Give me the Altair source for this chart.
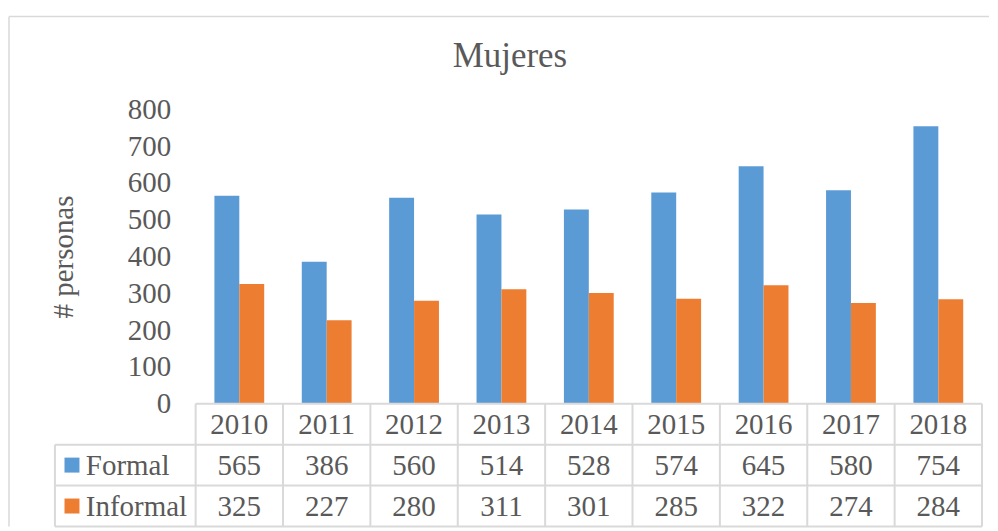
import altair as alt
import pandas as pd

years = ["2010", "2011", "2012", "2013", "2014", "2015", "2016", "2017", "2018"]
series = ["Formal", "Informal"]
formal = [565, 386, 560, 514, 528, 574, 645, 580, 754]
informal = [325, 227, 280, 311, 301, 285, 322, 274, 284]
colors = ["#5B9BD5", "#ED7D31"]
y_ticks = [0, 100, 200, 300, 400, 500, 600, 700, 800]

FONT = "Liberation Serif"
TXT = "#595959"
GRID = "#D9D9D9"

rows = []
for i, y in enumerate(years):
    rows.append({"year": y, "serie": "Formal", "value": formal[i], "idx": i})
    rows.append({"year": y, "serie": "Informal", "value": informal[i], "idx": i})
df = pd.DataFrame(rows)

color_scale = alt.Scale(domain=series, range=colors)

bars = alt.Chart(df).mark_bar().encode(
    x=alt.X("year:N", sort=years, axis=None,
            scale=alt.Scale(paddingInner=0.43, paddingOuter=0.215)),
    xOffset=alt.XOffset("serie:N", sort=series,
                        scale=alt.Scale(paddingInner=0, paddingOuter=0)),
    y=alt.Y("value:Q", scale=alt.Scale(domain=[0, 800], nice=False),
            axis=alt.Axis(values=y_ticks, title="# personas", grid=False,
                          domain=False, ticks=False, labelFont=FONT,
                          labelFontSize=29, labelColor=TXT, labelPadding=25,
                          titleFont=FONT, titleFontSize=29, titleColor=TXT,
                          titleFontWeight="normal", titlePadding=49)),
    color=alt.Color("serie:N", scale=color_scale, legend=None),
)

top = bars.properties(
    width=788, height=295,
    title=alt.Title("Mujeres", font=FONT, fontSize=35, color=TXT,
                    fontWeight="normal", dx=-79, offset=21),
)

# ---- data table below ----
cells = []
for i, y in enumerate(years):
    cells.append({"xc": i + 0.5, "row": 0.5, "label": y})
    cells.append({"xc": i + 0.5, "row": 1.5, "label": str(formal[i])})
    cells.append({"xc": i + 0.5, "row": 2.5, "label": str(informal[i])})
cells_df = pd.DataFrame(cells)

LEFT = -1.61
leg_df = pd.DataFrame({"serie": series, "row": [1.5, 2.5],
                       "xs": [-1.415, -1.415], "xt": [-1.256, -1.256]})

rules = [{"x": 0, "x2": 9, "y": 0, "y2": 0}]
for r in [1, 2, 3]:
    rules.append({"x": LEFT, "x2": 9, "y": r, "y2": r})
for c in range(10):
    rules.append({"x": c, "x2": c, "y": 0, "y2": 3})
rules.append({"x": LEFT, "x2": LEFT, "y": 1, "y2": 3})
rules_df = pd.DataFrame(rules)

xs = alt.Scale(domain=[0, 9], nice=False, zero=False)
ys = alt.Scale(domain=[0, 3], nice=False, reverse=True)

grid = alt.Chart(rules_df).mark_rule(color=GRID, strokeWidth=2).encode(
    x=alt.X("x:Q", scale=xs, axis=None), x2="x2:Q",
    y=alt.Y("y:Q", scale=ys, axis=None), y2="y2:Q",
)
texts = alt.Chart(cells_df).mark_text(font=FONT, fontSize=29, color=TXT,
                                      align="center", baseline="middle", dy=1).encode(
    x=alt.X("xc:Q", scale=xs, axis=None),
    y=alt.Y("row:Q", scale=ys, axis=None),
    text="label:N",
)
squares = alt.Chart(leg_df).mark_square(size=225, opacity=1).encode(
    x=alt.X("xs:Q", scale=xs, axis=None),
    y=alt.Y("row:Q", scale=ys, axis=None),
    color=alt.Color("serie:N", scale=color_scale, legend=None),
)
leg_text = alt.Chart(leg_df).mark_text(font=FONT, fontSize=29, color=TXT,
                                       align="left", baseline="middle", dy=1).encode(
    x=alt.X("xt:Q", scale=xs, axis=None),
    y=alt.Y("row:Q", scale=ys, axis=None),
    text="serie:N",
)

# outer chart-area border (decoration, positioned relative to the table panel)
border_df = pd.DataFrame({"k": [0]})
border_top = alt.Chart(border_df).mark_rule(color=GRID, strokeWidth=1.5).encode(
    x=alt.value(-187), x2=alt.value(795), y=alt.value(-388)
)
border_left = alt.Chart(border_df).mark_rule(color=GRID, strokeWidth=1.5).encode(
    x=alt.value(-187), y=alt.value(-388), y2=alt.value(123)
)

table = alt.layer(border_top, border_left, grid, texts, squares, leg_text).properties(
    width=788, height=123)

chart = alt.vconcat(top, table, spacing=0, bounds="flush").properties(
    padding={"left": 0, "top": 7, "right": 0, "bottom": 0}
).configure_view(stroke=None)

chart.save("out.html", embed_options={"renderer": "svg", "actions": False})
